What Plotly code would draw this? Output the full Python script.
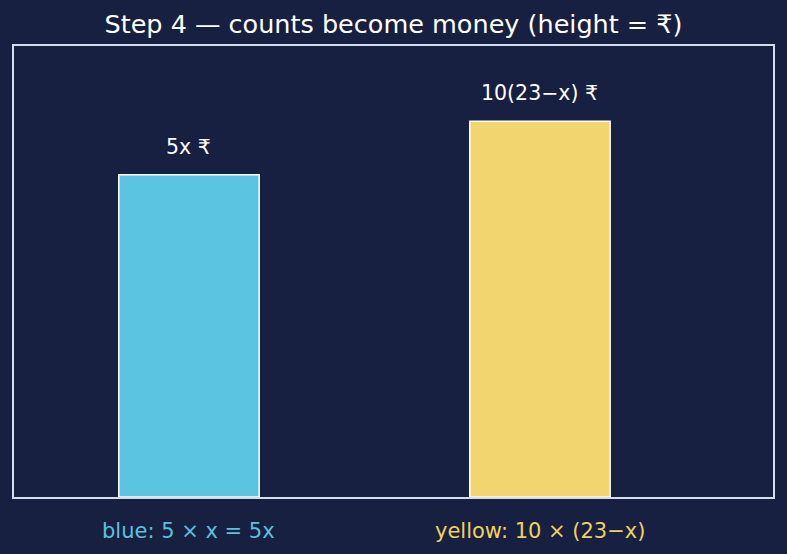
import plotly.graph_objects as go

categories = ["blue", "yellow"]
values = [6, 7]
bar_labels = ["5x ₹", "10(23−x) ₹"]
tick_labels = ["blue: 5 × x = 5x", "yellow: 10 × (23−x)"]
bar_colors = ["#5BC4E0", "#F3D56F"]
text_colors = ["#5BC0DE", "#F0D060"]

BG = "#172040"
FONT = "DejaVu Sans"

xpos = list(range(len(categories)))

fig = go.Figure()
fig.add_trace(go.Bar(
    x=xpos, y=values, width=0.4,
    marker=dict(color=bar_colors, line=dict(color="white", width=1.5)),
    hoverinfo="skip",
))

for xi, v, lab in zip(xpos, values, bar_labels):
    fig.add_annotation(x=xi, y=v, text=lab, showarrow=False, yshift=28,
                       yanchor="middle",
                       font=dict(family=FONT, size=20.5, color="white"))

for xi, lab, c in zip(xpos, tick_labels, text_colors):
    fig.add_annotation(x=xi, y=0, yref="paper", text=lab, showarrow=False,
                       yanchor="middle", yshift=-34,
                       font=dict(family=FONT, size=21, color=c))

fig.update_layout(
    width=787, height=554,
    margin=dict(l=14, r=14, t=46, b=57),
    paper_bgcolor=BG, plot_bgcolor=BG,
    title=dict(text="Step 4 — counts become money (height = ₹)",
               x=0.5, xanchor="center", y=1 - 24 / 554, yanchor="middle",
               font=dict(family=FONT, size=25.5, color="white")),
    showlegend=False,
    xaxis=dict(range=[-0.4986, 1.664], showticklabels=False, showgrid=False,
               zeroline=False, showline=True, mirror=True,
               linecolor="#D5DDEA", linewidth=1.5, fixedrange=True),
    yaxis=dict(range=[0, max(values) * 1.2], showticklabels=False, showgrid=False,
               zeroline=False, showline=True, mirror=True,
               linecolor="#D5DDEA", linewidth=1.5, fixedrange=True),
)

fig.write_html("out.html")
